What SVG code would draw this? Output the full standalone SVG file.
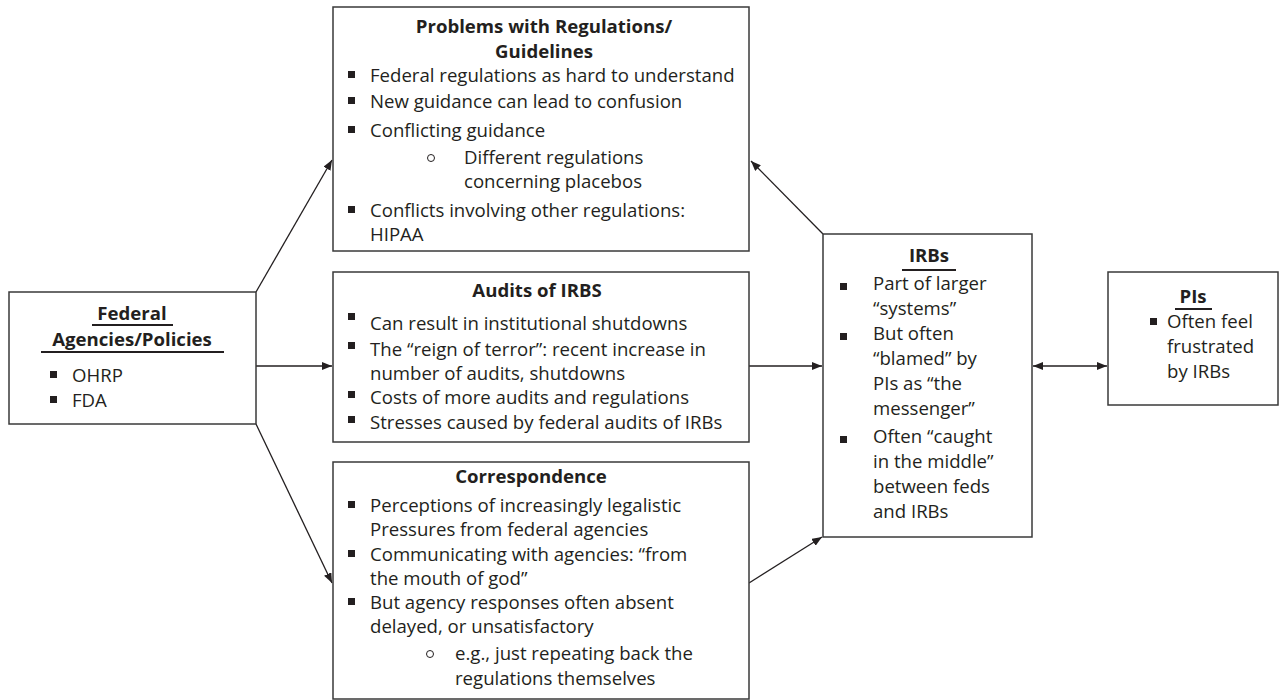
<svg xmlns="http://www.w3.org/2000/svg" width="1282" height="700" viewBox="0 0 1282 700">
<defs>
<style>
.box{fill:#fff;stroke:#3a3a3a;stroke-width:1.5}
text{font-family:"Open Sans","Liberation Sans",sans-serif;font-size:18.6px;fill:#231f20}
.t{font-weight:bold;text-anchor:middle}
.c{stroke:#231f20;stroke-width:1.3;fill:none}
.u{stroke:#231f20;stroke-width:2}
.sq{fill:#231f20}
.ci{fill:none;stroke:#231f20;stroke-width:1}
</style>
<marker id="ah" viewBox="0 0 10 8" refX="10" refY="4" markerWidth="10" markerHeight="8" markerUnits="userSpaceOnUse" orient="auto-start-reverse">
<path d="M0,0 L10,4 L0,8 z" fill="#231f20"/>
</marker>
</defs>
<rect width="1282" height="700" fill="#fff"/>

<g id="connectors">
<line class="c" x1="256" y1="292" x2="332" y2="160" marker-end="url(#ah)"/>
<line class="c" x1="256" y1="366" x2="332" y2="366" marker-end="url(#ah)"/>
<line class="c" x1="256" y1="424" x2="332" y2="583" marker-end="url(#ah)"/>
<line class="c" x1="749" y1="366" x2="822" y2="366" marker-end="url(#ah)"/>
<line class="c" x1="749" y1="583" x2="822" y2="537" marker-end="url(#ah)"/>
<line class="c" x1="823" y1="234" x2="751" y2="161" marker-end="url(#ah)"/>
<line class="c" x1="1033" y1="366" x2="1107" y2="366" marker-start="url(#ah)" marker-end="url(#ah)"/>
</g>

<g id="federal">
<rect class="box" x="9" y="292" width="247" height="132"/>
<text class="t" x="132" y="320">Federal</text>
<line class="u" x1="92" y1="325" x2="173" y2="325"/>
<text class="t" x="132" y="346">Agencies/Policies</text>
<line class="u" x1="41" y1="352" x2="224" y2="352"/>
<rect class="sq" x="50" y="371" width="7" height="7"/>
<text x="72" y="382">OHRP</text>
<rect class="sq" x="50" y="396" width="7" height="7"/>
<text x="72" y="407">FDA</text>
</g>

<g id="problems">
<rect class="box" x="333" y="7" width="416" height="244"/>
<text class="t" x="544" y="33">Problems with Regulations/</text>
<text class="t" x="544" y="58">Guidelines</text>
<rect class="sq" x="348" y="71" width="7" height="7"/>
<text x="370" y="82">Federal regulations as hard to understand</text>
<rect class="sq" x="348" y="97" width="7" height="7"/>
<text x="370" y="108">New guidance can lead to confusion</text>
<rect class="sq" x="348" y="126" width="7" height="7"/>
<text x="370" y="137">Conflicting guidance</text>
<circle class="ci" cx="431" cy="158" r="3.5"/>
<text x="464" y="164">Different regulations</text>
<text x="464" y="188">concerning placebos</text>
<rect class="sq" x="348" y="206" width="7" height="7"/>
<text x="370" y="217">Conflicts involving other regulations:</text>
<text x="370" y="241">HIPAA</text>
</g>

<g id="audits">
<rect class="box" x="333" y="272" width="416" height="170"/>
<text class="t" x="537" y="297">Audits of IRBS</text>
<rect class="sq" x="348" y="313" width="7" height="7"/>
<text x="370" y="330">Can result in institutional shutdowns</text>
<rect class="sq" x="348" y="342" width="7" height="7"/>
<text x="370" y="356">The “reign of terror”: recent increase in</text>
<text x="370" y="380">number of audits, shutdowns</text>
<rect class="sq" x="348" y="391" width="7" height="7"/>
<text x="370" y="404">Costs of more audits and regulations</text>
<rect class="sq" x="348" y="416" width="7" height="7"/>
<text x="370" y="429">Stresses caused by federal audits of IRBs</text>
</g>

<g id="correspondence">
<rect class="box" x="333" y="462" width="416" height="237"/>
<text class="t" x="531" y="483">Correspondence</text>
<rect class="sq" x="348" y="501" width="7" height="7"/>
<text x="370" y="512">Perceptions of increasingly legalistic</text>
<text x="370" y="536">Pressures from federal agencies</text>
<rect class="sq" x="348" y="550" width="7" height="7"/>
<text x="370" y="561">Communicating with agencies: “from</text>
<text x="370" y="585">the mouth of god”</text>
<rect class="sq" x="348" y="598" width="7" height="7"/>
<text x="370" y="609">But agency responses often absent</text>
<text x="370" y="633">delayed, or unsatisfactory</text>
<circle class="ci" cx="430" cy="654" r="3.5"/>
<text x="455" y="660">e.g., just repeating back the</text>
<text x="455" y="685">regulations themselves</text>
</g>

<g id="irbs">
<rect class="box" x="823" y="234" width="209" height="303"/>
<text class="t" x="929" y="262">IRBs</text>
<line class="u" x1="902" y1="270" x2="956" y2="270"/>
<rect class="sq" x="840" y="283" width="7" height="7"/>
<text x="873" y="290">Part of larger</text>
<text x="873" y="315">“systems”</text>
<rect class="sq" x="840" y="333" width="7" height="7"/>
<text x="873" y="340">But often</text>
<text x="873" y="365">“blamed” by</text>
<text x="873" y="390">PIs as “the</text>
<text x="873" y="415">messenger”</text>
<rect class="sq" x="840" y="436" width="7" height="7"/>
<text x="873" y="443">Often “caught</text>
<text x="873" y="468">in the middle”</text>
<text x="873" y="493">between feds</text>
<text x="873" y="518">and IRBs</text>
</g>

<g id="pis">
<rect class="box" x="1108" y="272" width="170" height="133"/>
<text class="t" x="1193" y="303">PIs</text>
<line class="u" x1="1175" y1="309" x2="1212" y2="309"/>
<rect class="sq" x="1150" y="318" width="7" height="7"/>
<text x="1167" y="328">Often feel</text>
<text x="1167" y="353">frustrated</text>
<text x="1167" y="378">by IRBs</text>
</g>
</svg>
